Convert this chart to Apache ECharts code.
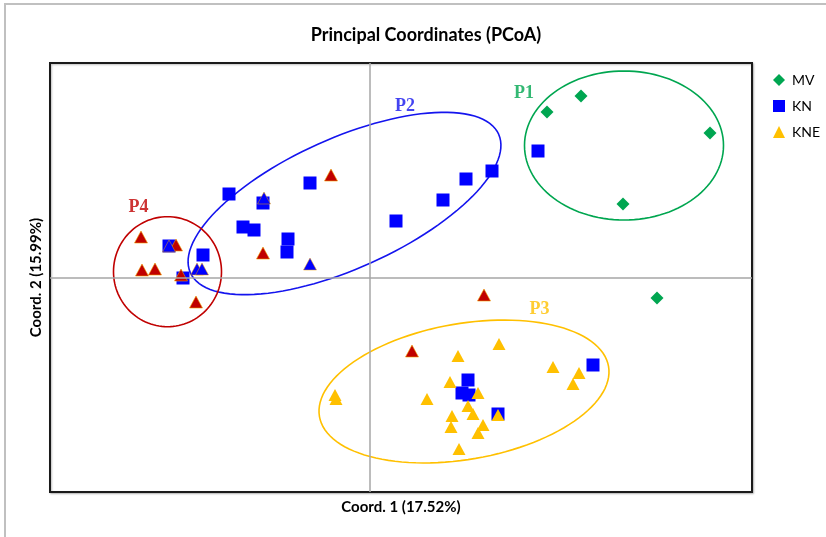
<!DOCTYPE html>
<html>
<head>
<meta charset="utf-8">
<script src="https://cdn.jsdelivr.net/npm/echarts@6/dist/echarts.min.js"></script>
<style>html,body{margin:0;padding:0;background:#fff;}#c{width:826px;height:537px;}</style>
</head>
<body>
<div id="c"></div>
<script>
// Axis titles / legend
const titleText = 'Principal Coordinates (PCoA)';
const xAxisName = 'Coord. 1 (17.52%)';
const yAxisName = 'Coord. 2 (15.99%)';
const legendNames = ['MV', 'KN', 'KNE'];

// Point coordinates [Coord.1, Coord.2]
const mvPoints = [[0.177,0.166],[0.211,0.182],[0.340,0.145],[0.253,0.074],[0.287,-0.020]];
const knPoints = [[0.168,0.127],[-0.141,0.084],[-0.060,0.095],[-0.107,0.075],[-0.127,0.051],[-0.116,0.048],
  [-0.082,0.039],[-0.083,0.026],[0.026,0.057],[0.073,0.078],[0.096,0.099],[0.122,0.107],[-0.167,0.023],
  [-0.201,0.032],[-0.187,0.000],[0.098,-0.102],[0.092,-0.115],[0.099,-0.117],[0.223,-0.087],[0.128,-0.136]];
const kneRedPoints = [[-0.039,0.103],[-0.107,0.025],[-0.229,0.041],[-0.194,0.033],[-0.228,0.008],[-0.215,0.009],
  [-0.189,0.003],[-0.174,-0.024],[0.114,-0.017],[0.042,-0.073]];
const knBlueTriPoints = [[-0.106,0.080],[-0.201,0.032],[-0.060,0.014],[-0.173,0.009],[-0.168,0.009]];
const knePoints = [[0.129,-0.066],[0.088,-0.078],[0.183,-0.089],[0.209,-0.095],[0.203,-0.106],[-0.035,-0.117],
  [-0.034,-0.121],[0.057,-0.121],[0.080,-0.104],[0.108,-0.115],[0.098,-0.128],[0.103,-0.136],[0.082,-0.138],
  [0.081,-0.149],[0.113,-0.147],[0.108,-0.155],[0.089,-0.171],[0.128,-0.137]];

// Group ellipses: [centerX, centerY, semiMajor, semiMinor, angleDeg]
const groupNames = ['P1', 'P2', 'P3', 'P4'];
const groupEllipses = [[0.254,0.1325,0.0995,0.0745,0],[-0.0255,0.0745,0.169,0.065,24.2],
  [0.094,-0.1135,0.1467,0.0679,9.85],[-0.2025,0.0063,0.054,0.055,0]];
const groupLabelPos = [[0.154,0.1845],[0.035,0.172],[0.1695,-0.031],[-0.2315,0.071]];
const groupColors = ['#00A650', '#1414EE', '#FFC000', '#C00000'];

const chart = echarts.init(document.getElementById('c'));
const font = 'Lato, "Open Sans", sans-serif';

function ellipseItem(params, api) {
  const cx = api.value(0), cy = api.value(1), a = api.value(2), b = api.value(3), ang = api.value(4) * Math.PI / 180;
  const pts = [];
  for (let i = 0; i < 120; i++) {
    const t = i / 120 * Math.PI * 2;
    const x = cx + a * Math.cos(t) * Math.cos(ang) - b * Math.sin(t) * Math.sin(ang);
    const y = cy + a * Math.cos(t) * Math.sin(ang) + b * Math.sin(t) * Math.cos(ang);
    pts.push(api.coord([x, y]));
  }
  return { type: 'polygon', shape: { points: pts }, style: { fill: 'none', stroke: groupColors[params.dataIndex], lineWidth: 1.6 } };
}

chart.setOption({
  animation: false,
  title: { text: titleText, left: 421, top: 21, textAlign: 'center',
    textStyle: { fontFamily: font, fontWeight: 'bold', fontSize: 18, color: '#000' } },
  legend: { data: legendNames, orient: 'vertical', left: 768, top: 68, itemWidth: 12, itemHeight: 12, itemGap: 12,
    textStyle: { fontFamily: font, fontSize: 14, color: '#000', padding: [0, 0, 0, 2] }, selectedMode: false },
  grid: { left: 50, right: 74, top: 63, bottom: 45, show: true, borderColor: '#1a1a1a', borderWidth: 2,
    shadowColor: 'rgba(0,0,0,0.25)', shadowBlur: 2, shadowOffsetX: 1, shadowOffsetY: 1, backgroundColor: '#fff' },
  xAxis: { type: 'value', min: -0.32, max: 0.382, name: xAxisName, nameLocation: 'middle', nameGap: 8,
    nameTextStyle: { fontFamily: font, fontWeight: 'bold', fontSize: 15, color: '#000' },
    axisLine: { show: false, onZero: false }, axisTick: { show: false }, axisLabel: { show: false }, splitLine: { show: false } },
  yAxis: { type: 'value', min: -0.214, max: 0.215, name: yAxisName, nameLocation: 'middle', nameGap: 6,
    nameTextStyle: { fontFamily: font, fontWeight: 'bold', fontSize: 15, color: '#000' },
    axisLine: { show: false, onZero: false }, axisTick: { show: false }, axisLabel: { show: false }, splitLine: { show: false } },
  graphic: [{ type: 'polyline', shape: { points: [[5, 537], [5, 4], [826, 4]] }, style: { stroke: '#c0c0c0', lineWidth: 2, fill: 'none' }, silent: true }],
  series: [
    { type: 'custom', name: 'ellipses', renderItem: ellipseItem, data: groupEllipses, z: 1, silent: true,
      encode: { x: 0, y: 1 },
      markLine: { silent: true, symbol: 'none', label: { show: false }, lineStyle: { color: '#a6a6a6', width: 1.5, type: 'solid' },
        data: [{ xAxis: 0 }, { yAxis: 0 }] } },
    { type: 'scatter', name: 'labels', data: groupLabelPos.map((p, i) => ({ value: p, name: groupNames[i],
        label: { color: groupColors[i] } })), symbolSize: 0, z: 2, silent: true,
      label: { show: true, position: 'inside', formatter: '{b}', fontFamily: '"Liberation Serif", serif', fontWeight: 'bold', fontSize: 18 } },
    { type: 'scatter', name: 'MV', data: mvPoints, symbol: 'diamond', symbolSize: 13, itemStyle: { color: '#00A651', opacity: 1 }, z: 3 },
    { type: 'scatter', name: 'KN', data: knPoints, symbol: 'rect', symbolSize: 13, itemStyle: { color: '#0000FF', opacity: 1 }, z: 3 },
    { type: 'scatter', name: 'KNE red', data: kneRedPoints, symbol: 'triangle', symbolSize: [13, 12],
      itemStyle: { color: '#C00000', borderColor: '#F0A000', borderWidth: 0.6, opacity: 1 }, z: 4 },
    { type: 'scatter', name: 'KNE', data: knePoints, symbol: 'triangle', symbolSize: [13, 12], itemStyle: { color: '#FFC000', opacity: 1 }, z: 4 },
    { type: 'scatter', name: 'KN tri', data: knBlueTriPoints, symbol: 'triangle', symbolSize: [13, 12],
      itemStyle: { color: '#0000FF', borderColor: '#F0A000', borderWidth: 0.5, opacity: 1 }, z: 5 }
  ]
});
</script>
</body>
</html>
